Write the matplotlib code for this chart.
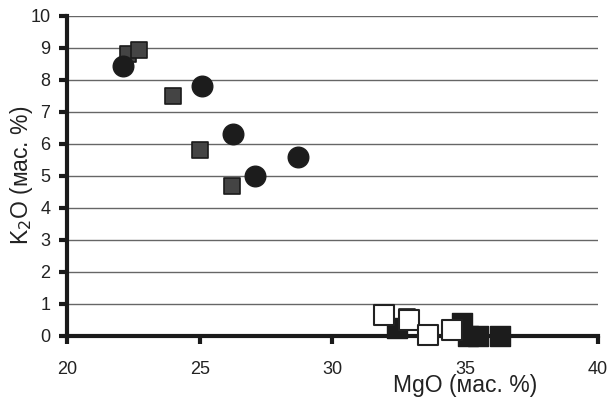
import matplotlib
matplotlib.use('Agg')
import matplotlib.pyplot as plt

plt.rcParams['font.family'] = ['Liberation Sans', 'DejaVu Sans']

# gray squares
gray_mgo = [22.3, 22.7, 24.0, 25.0, 26.2, 32.8]
gray_k2o = [8.8, 8.95, 7.5, 5.8, 4.7, 0.58]
# black circles
circ_mgo = [22.1, 25.1, 26.25, 27.1, 28.7]
circ_k2o = [8.45, 7.8, 6.3, 5.0, 5.6]
# black squares
blk_mgo = [32.45, 34.9, 35.1, 35.5, 36.3]
blk_k2o = [0.25, 0.4, 0.0, 0.0, 0.0]
# open squares
open_mgo = [31.95, 32.9, 33.6, 34.5]
open_k2o = [0.65, 0.5, 0.03, 0.2]

xticks = [20, 25, 30, 35, 40]
yticks = list(range(0, 11))

fig = plt.figure(figsize=(6.1, 3.99), dpi=100)
ax = fig.add_axes([0.11, 0.158, 0.87, 0.802])

for y in yticks[1:]:
    ax.axhline(y, color='#666666', lw=1.0, zorder=0)

ax.scatter(gray_mgo, gray_k2o, marker='s', s=140, color='#444444',
           edgecolors='#1a1a1a', linewidths=1.2, zorder=3, clip_on=False)
ax.scatter(circ_mgo, circ_k2o, marker='o', s=220, color='#1c1c1c',
           edgecolors='#1c1c1c', zorder=4, clip_on=False)
ax.scatter(blk_mgo, blk_k2o, marker='s', s=210, color='#1c1c1c',
           edgecolors='#1c1c1c', zorder=4, clip_on=False)
ax.scatter(open_mgo, open_k2o, marker='s', s=200, color='white',
           edgecolors='#222222', linewidths=1.5, zorder=5, clip_on=False)

ax.set_xlim(20, 40)
ax.set_ylim(0, 10)
ax.set_xticks(xticks)
ax.set_yticks(yticks)
for s in ['top', 'right']:
    ax.spines[s].set_visible(False)
for s in ['left', 'bottom']:
    ax.spines[s].set_linewidth(3)
    ax.spines[s].set_color('#1a1a1a')
    ax.spines[s].set_zorder(2)
ax.tick_params(axis='both', direction='out', length=6, width=3,
               color='#1a1a1a', labelsize=13, labelcolor='#222222')
ax.tick_params(axis='x', pad=12)
ax.tick_params(axis='y', pad=6)

fig.text(0.763, 0.035, 'MgO (мас. %)', ha='center', va='center',
         fontsize=16.5, color='#222222')
fig.text(0.035, 0.56, 'K$_2$O (мас. %)', ha='center', va='center',
         rotation=90, fontsize=16.5, color='#222222')

fig.savefig('out.png', dpi=100)
